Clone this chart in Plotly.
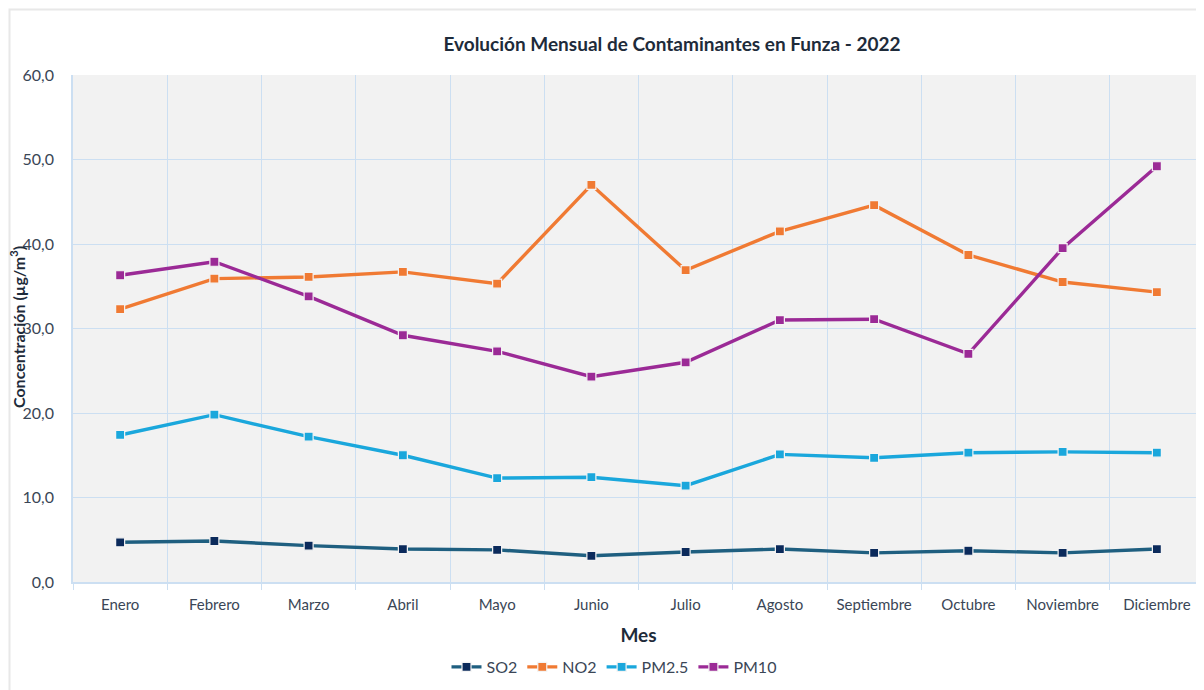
import plotly.graph_objects as go

meses = ["Enero", "Febrero", "Marzo", "Abril", "Mayo", "Junio", "Julio",
         "Agosto", "Septiembre", "Octubre", "Noviembre", "Diciembre"]
so2 = [4.7, 4.85, 4.3, 3.9, 3.8, 3.1, 3.55, 3.9, 3.45, 3.7, 3.45, 3.9]
no2 = [32.3, 35.9, 36.1, 36.7, 35.3, 47.0, 36.9, 41.5, 44.6, 38.7, 35.5, 34.3]
pm25 = [17.4, 19.8, 17.2, 15.0, 12.3, 12.4, 11.4, 15.1, 14.7, 15.3, 15.4, 15.3]
pm10 = [36.3, 37.9, 33.8, 29.2, 27.3, 24.3, 26.0, 31.0, 31.1, 27.0, 39.5, 49.2]

series = [
    ("SO2", so2, "#1F5F80", "#0B2A5B"),
    ("NO2", no2, "#F07A33", "#F07A33"),
    ("PM2.5", pm25, "#1AA7DC", "#1AA7DC"),
    ("PM10", pm10, "#9B2A96", "#9B2A96"),
]

# page has an 8px body margin, so the figure is drawn 8px in from the corner
W, H = 1196, 682
L, T, B = 65, 67, 108
PW, PH = W - L, H - T - B

fig = go.Figure()
for name, vals, lc, mc in series:
    fig.add_trace(go.Scatter(
        x=meses, y=vals, name=name, mode="lines+markers",
        line=dict(color=lc, width=3.4),
        marker=dict(symbol="square", size=9, color=mc,
                    line=dict(color="#F4F4F4", width=1.2)),
    ))

fig.update_layout(
    width=W, height=H,
    margin=dict(l=L, r=0, t=T, b=B, autoexpand=False),
    paper_bgcolor="white", plot_bgcolor="#F2F2F2",
    separators=",.",
    font=dict(family="Lato, 'Open Sans', sans-serif", color="#3A4656", size=15),
    title=dict(text="<b>Evolución Mensual de Contaminantes en Funza - 2022</b>",
               x=(672 - 73) / PW, xref="paper", xanchor="center",
               y=1 - (44 - 8) / H, yanchor="middle",
               font=dict(size=19, color="#1E2B3A")),
    legend=dict(orientation="h", x=(614 - 8) / W, xanchor="center", xref="container",
                y=1 - (667 - 8) / H, yref="container", yanchor="middle",
                font=dict(size=16, color="#3A4656"),
                traceorder="normal"),
    showlegend=True,
)

fig.update_xaxes(
    type="category", tickson="boundaries", showgrid=True, gridcolor="#CCDFF2",
    gridwidth=1.2, ticks="outside", ticklen=6, tickcolor="#CCDFF2",
    showline=True, linecolor="#CCDFF2", linewidth=1.5,
    tickfont=dict(size=15, color="#3A4656"), ticklabelstandoff=8,
    title=dict(text="<b>Mes</b>", font=dict(size=19, color="#1E2B3A"), standoff=17),
    range=[-0.5, 11.5], zeroline=False,
)
fig.update_yaxes(
    range=[0, 60], dtick=10, tickformat=".1f", showgrid=True,
    gridcolor="#CCDFF2", gridwidth=1.2, zeroline=False,
    showline=True, linecolor="#CCDFF2", linewidth=1.5,
    tickfont=dict(size=16, color="#3A4656"), ticks="", ticklabelstandoff=14,
)

# y-axis title placed as annotation (sits closer to tick labels than standoff allows)
fig.add_annotation(
    text="<b>Concentración (µg/m<sup>3</sup>)</b>", textangle=-90,
    xref="paper", yref="paper", x=(17 - 73) / PW, y=(582 - 327) / PH,
    xanchor="center", yanchor="middle", showarrow=False,
    font=dict(size=16, color="#1E2B3A"),
)

# outer chart frame (kept just inside the figure's own edge)
fig.add_shape(type="rect", xref="paper", yref="paper",
              x0=-(L - 1.5) / PW, x1=(1240 - 73) / PW,
              y0=-(B + 30) / PH, y1=1 + (T - 1.5) / PH,
              line=dict(color="#E8E8E8", width=2), fillcolor="rgba(0,0,0,0)",
              layer="below")

fig.write_html("out.html")
